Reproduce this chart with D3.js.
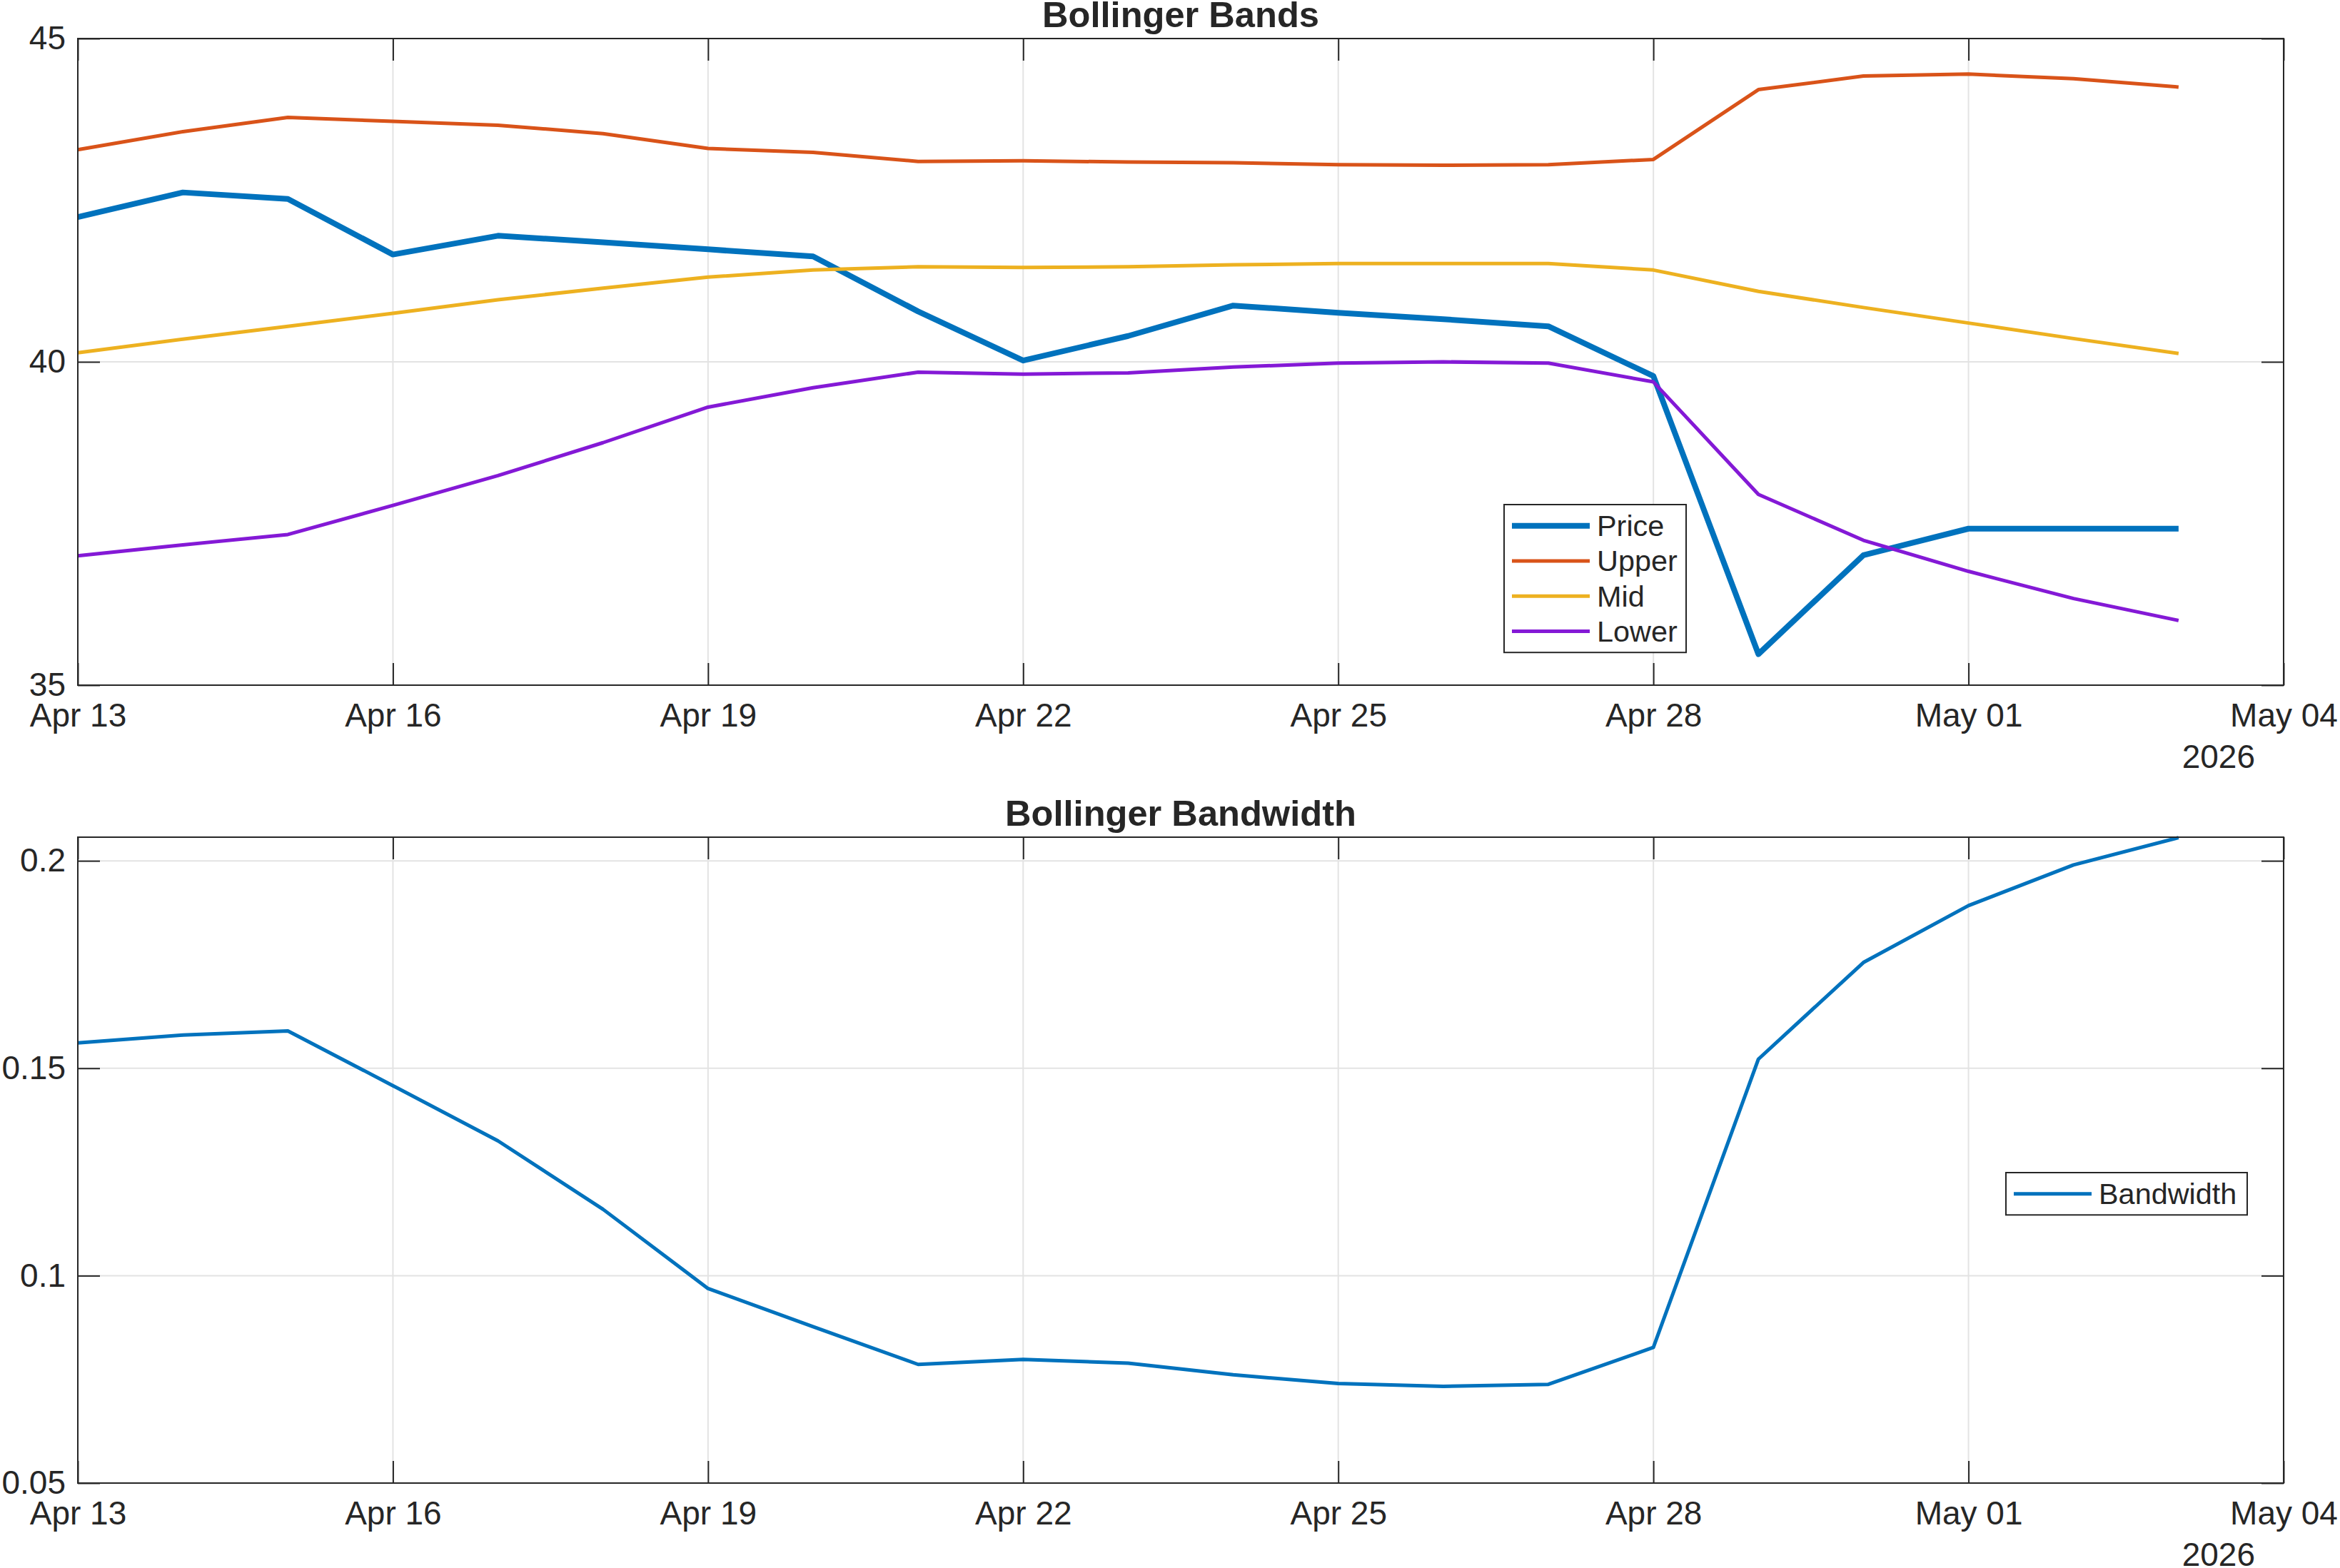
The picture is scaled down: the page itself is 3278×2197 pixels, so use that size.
<!DOCTYPE html>
<html>
<head>
<meta charset="utf-8">
<script src="https://cdn.jsdelivr.net/npm/d3@7"></script>
<style>
  html, body { margin: 0; padding: 0; background: #fff; }
  svg { display: block; font-family: "Liberation Sans", Arial, sans-serif; }
</style>
</head>
<body>
<script>
// daily closes and bands, Apr 13 - May 03 2026
const dates = ['2026-04-13','2026-04-14','2026-04-15','2026-04-16','2026-04-17','2026-04-18','2026-04-19',
               '2026-04-20','2026-04-21','2026-04-22','2026-04-23','2026-04-24','2026-04-25','2026-04-26',
               '2026-04-27','2026-04-28','2026-04-29','2026-04-30','2026-05-01','2026-05-02','2026-05-03'];
const price = [42.24, 42.62, 42.52, 41.66, 41.95, 41.85, 41.74, 41.63, 40.78, 40.02, 40.40,
               40.87, 40.76, 40.66, 40.55, 39.78, 35.48, 37.01, 37.42, 37.42, 37.42];
const upper = [43.28, 43.56, 43.78, 43.72, 43.66, 43.53, 43.30, 43.24, 43.10, 43.11, 43.09,
               43.08, 43.05, 43.04, 43.05, 43.13, 44.21, 44.42, 44.45, 44.38, 44.25];
const mid   = [40.14, 40.35, 40.55, 40.75, 40.96, 41.14, 41.31, 41.42, 41.47, 41.46, 41.47,
               41.50, 41.52, 41.52, 41.52, 41.42, 41.09, 40.84, 40.60, 40.36, 40.13];
const lower = [37.00, 37.17, 37.33, 37.78, 38.24, 38.75, 39.30, 39.60, 39.84, 39.81, 39.83,
               39.92, 39.98, 40.00, 39.98, 39.69, 37.95, 37.24, 36.76, 36.34, 36.00];
const bandwidth = [0.1561, 0.1580, 0.1590, 0.1458, 0.1325, 0.1160, 0.0969, 0.0877, 0.0786, 0.0798, 0.0789,
                   0.0761, 0.0740, 0.0733, 0.0738, 0.0827, 0.1522, 0.1755, 0.1892, 0.1990, 0.2056];

const xTicks = ['2026-04-13','2026-04-16','2026-04-19','2026-04-22','2026-04-25','2026-04-28','2026-05-01','2026-05-04'];
const priceTicks = [35, 40, 45];
const bwTicks = [0.05, 0.1, 0.15, 0.2];

const W = 3278, H = 2197;
const parse = d3.timeParse('%Y-%m-%d');
const days = dates.map(parse);
const tickDates = xTicks.map(parse);

const svg = d3.select('body').append('svg')
    .attr('width', W)
    .attr('height', H);
svg.append('rect').attr('width', W).attr('height', H).attr('fill', '#fff');

const left = 109, right = 3199;
const x = d3.scaleTime().domain([tickDates[0], tickDates[tickDates.length - 1]]).range([left, right]);

const axisColor = '#262626';
const tickFont = 46, titleFont = 50.6, legendFont = 41.4, tickLen = 31;

function panel(opts) {
    const y = d3.scaleLinear().domain(opts.yDomain).range([opts.bottom, opts.top]);
    const g = svg.append('g');
    const h = opts.bottom - opts.top;

    // grid
    g.append('g').selectAll('line').data(tickDates).enter().append('line')
        .attr('x1', d => x(d)).attr('x2', d => x(d))
        .attr('y1', opts.top).attr('y2', opts.bottom)
        .attr('stroke', '#e3e3e3').attr('stroke-width', 2);
    g.append('g').selectAll('line').data(opts.yTicks).enter().append('line')
        .attr('x1', left).attr('x2', right)
        .attr('y1', d => y(d)).attr('y2', d => y(d))
        .attr('stroke', '#e3e3e3').attr('stroke-width', 2);

    // axes
    const fmt = d3.timeFormat('%b %d');
    const bottomAxis = g.append('g').attr('transform', `translate(0,${opts.bottom})`)
        .call(d3.axisBottom(x).tickValues(tickDates).tickFormat(fmt)
            .tickSizeInner(-tickLen).tickSizeOuter(0).tickPadding(25.3));
    const topAxis = g.append('g').attr('transform', `translate(0,${opts.top})`)
        .call(d3.axisTop(x).tickValues(tickDates).tickFormat('')
            .tickSizeInner(-tickLen).tickSizeOuter(0));
    const leftAxis = g.append('g').attr('transform', `translate(${left},0)`)
        .call(d3.axisLeft(y).tickValues(opts.yTicks).tickFormat(d3.format('~g'))
            .tickSizeInner(-tickLen).tickSizeOuter(0).tickPadding(17));
    const rightAxis = g.append('g').attr('transform', `translate(${right},0)`)
        .call(d3.axisRight(y).tickValues(opts.yTicks).tickFormat('')
            .tickSizeInner(-tickLen).tickSizeOuter(0));

    [bottomAxis, topAxis, leftAxis, rightAxis].forEach(a => {
        a.select('.domain').remove();
        a.selectAll('.tick line').attr('stroke', axisColor).attr('stroke-width', 2);
        a.selectAll('text').attr('fill', axisColor).attr('font-size', tickFont)
            .attr('font-family', '"Liberation Sans", Arial, sans-serif');
    });

    // year label
    g.append('text')
        .attr('x', right - 40).attr('y', opts.bottom + 116)
        .attr('text-anchor', 'end')
        .attr('font-size', tickFont).attr('fill', axisColor)
        .text('2026');

    // title
    g.append('text')
        .attr('x', (left + right) / 2).attr('y', opts.top - 16)
        .attr('text-anchor', 'middle')
        .attr('font-size', titleFont).attr('font-weight', 'bold').attr('fill', axisColor)
        .text(opts.title);

    // data lines
    opts.series.forEach(s => {
        const line = d3.line().x((d, i) => x(days[i])).y(d => y(d));
        g.append('path').datum(s.values)
            .attr('d', line)
            .attr('fill', 'none')
            .attr('stroke', s.color)
            .attr('stroke-width', s.width)
            .attr('stroke-linejoin', 'round');
    });

    // box
    g.append('rect')
        .attr('x', left).attr('y', opts.top)
        .attr('width', right - left).attr('height', h)
        .attr('fill', 'none').attr('stroke', axisColor).attr('stroke-width', 2);

    // legend
    const lg = opts.legend;
    const rowH = 49.3;
    const boxH = opts.series.length * rowH + 10;
    const leg = g.append('g').attr('transform', `translate(${lg.x},${lg.y})`);
    leg.append('rect')
        .attr('width', lg.w).attr('height', boxH)
        .attr('fill', '#fff').attr('stroke', axisColor).attr('stroke-width', 2);
    opts.series.forEach((s, i) => {
        const cy = 5 + rowH * (i + 0.5);
        leg.append('line')
            .attr('x1', 11).attr('x2', 120)
            .attr('y1', cy).attr('y2', cy)
            .attr('stroke', s.color).attr('stroke-width', s.width);
        leg.append('text')
            .attr('x', 130).attr('y', cy).attr('dy', '0.35em')
            .attr('font-size', legendFont).attr('fill', axisColor)
            .text(s.name);
    });
}

panel({
    title: 'Bollinger Bands',
    top: 54, bottom: 960,
    yDomain: [35, 45], yTicks: priceTicks,
    series: [
        { name: 'Price', values: price, color: '#0072BD', width: 8 },
        { name: 'Upper', values: upper, color: '#D95319', width: 5 },
        { name: 'Mid', values: mid, color: '#EDB120', width: 5 },
        { name: 'Lower', values: lower, color: '#8419D6', width: 5 }
    ],
    legend: { x: 2107, y: 707, w: 255 }
});

panel({
    title: 'Bollinger Bandwidth',
    top: 1173, bottom: 2078,
    yDomain: [0.05, 0.2057], yTicks: bwTicks,
    series: [
        { name: 'Bandwidth', values: bandwidth, color: '#0072BD', width: 5 }
    ],
    legend: { x: 2810, y: 1643, w: 338 }
});
</script>
</body>
</html>
